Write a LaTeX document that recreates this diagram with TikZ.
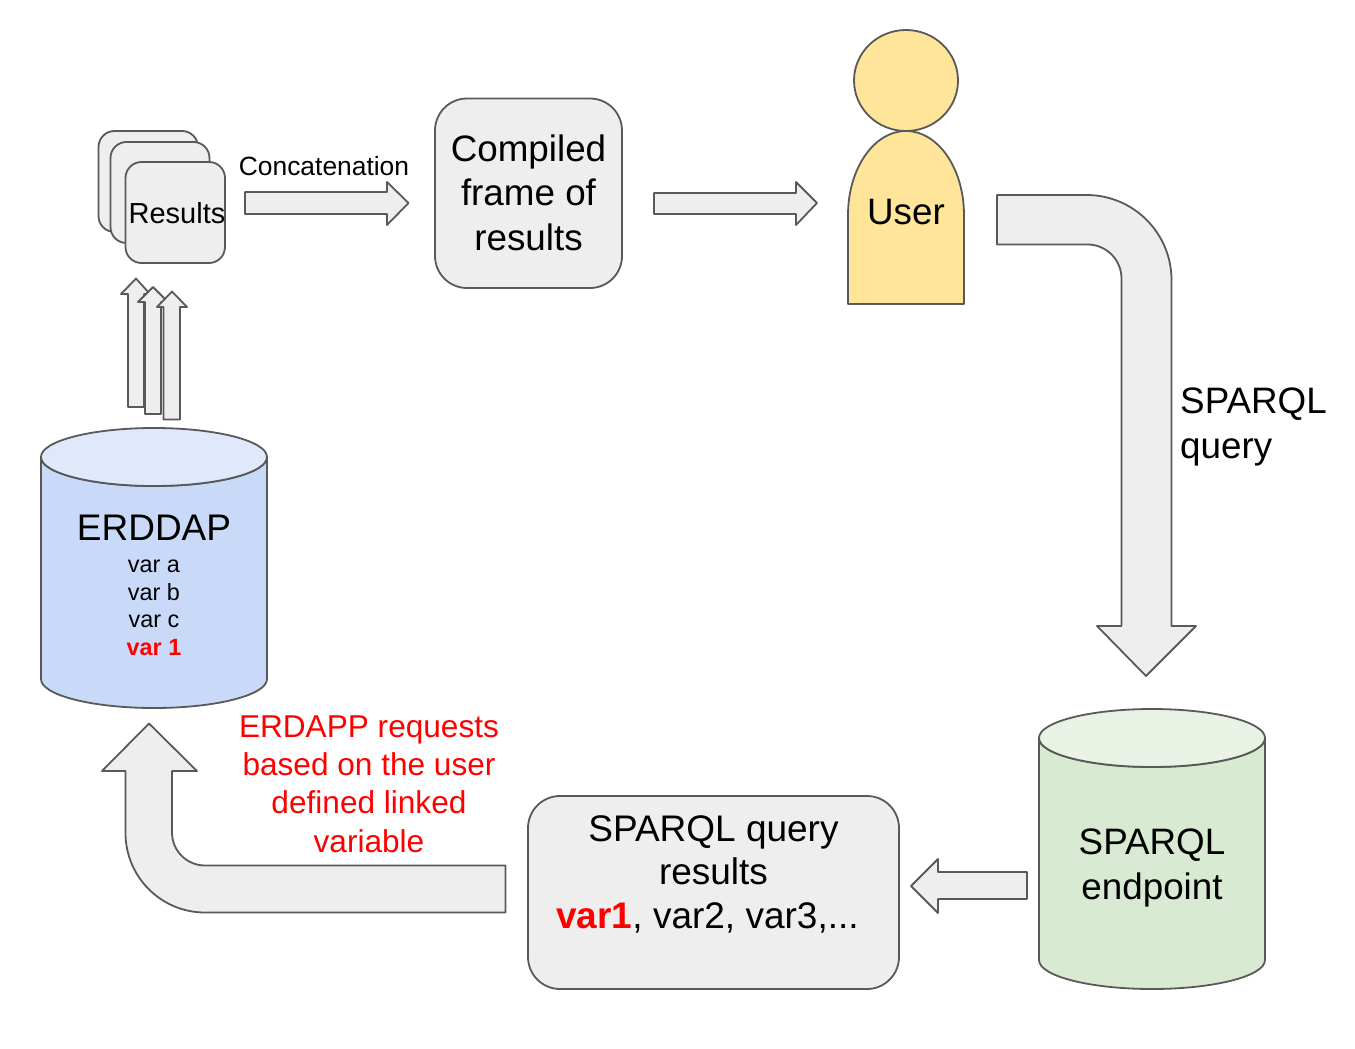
\documentclass[tikz,border=0pt]{standalone}
\usepackage{fontspec}
\setmainfont{Liberation Sans}
\definecolor{shapeline}{HTML}{595959}
\definecolor{shapefill}{HTML}{EEEEEE}
\definecolor{userfill}{HTML}{FFE599}
\definecolor{bluefill}{HTML}{C9DAF8}
\definecolor{bluetop}{HTML}{E0E8FB}
\definecolor{greenfill}{HTML}{D9EAD3}
\definecolor{greentop}{HTML}{E8F2E5}
\tikzset{
    shape line/.style={draw=shapeline, line width=1.8pt, line join=round},
    block arrow/.style={shape line, fill=shapefill},
    round box/.style={shape line, fill=shapefill, rounded corners=#1},
    big text/.style={align=center, inner sep=0pt, font=\fontsize{36.8}{44.5}\selectfont},
    red text/.style={align=center, inner sep=0pt, text=red, font=\fontsize{31.6}{38.3}\selectfont}
}
% cylinder: left x, right x, top y, bottom y, body fill, top fill
\newcommand{\drumshape}[6]{
    \path[shape line, fill=#5] (#1,#3+29) -- (#1,#4-29)
        arc[start angle=180, end angle=0, x radius=(#2-#1)/2, y radius=29]
        -- (#2,#3+29)
        arc[start angle=0, end angle=180, x radius=(#2-#1)/2, y radius=29] -- cycle;
    \path[shape line, fill=#6] (#1,#3+29)
        arc[start angle=180, end angle=540, x radius=(#2-#1)/2, y radius=29] -- cycle;
}
\begin{document}
\begin{tikzpicture}[x=1pt, y=-1pt]
        \useasboundingbox (0,0) rectangle (1355,1049);

        % results stack
        \path[round box=16pt] (98.5,131) rectangle (198,232);
        \path[round box=16pt] (110.5,142) rectangle (209.5,243);
        \path[round box=16pt] (125.5,162) rectangle (225,263);
        \node[inner sep=0pt, font=\fontsize{29}{34}\selectfont] (results) at (177,213) {Results};

        % arrows out of ERDDAP
        \path[block arrow] (128,407) -- (128,294) -- (121,294) -- (136,278.5) -- (150,294) -- (144,294) -- (144,407) -- cycle;
        \path[block arrow] (145,414) -- (145,302) -- (138,302) -- (153,287) -- (168,302) -- (161,302) -- (161,414) -- cycle;
        \path[block arrow] (163.5,419.5) -- (163.5,307) -- (157,307) -- (172,291.5) -- (187,307) -- (180,307) -- (180,419.5) -- cycle;

        % top row
        \path[block arrow] (245,192) -- (387,192) -- (387,182) -- (408.5,203) -- (387,225) -- (387,214) -- (245,214) -- cycle;
        \node[inner sep=0pt, font=\fontsize{26.4}{31}\selectfont] (concat) at (324,166) {Concatenation};
        \path[round box=32pt] (435,98.5) rectangle (622,288);
        \node[big text] (compiled) at (528.5,192.5) {Compiled\\frame of\\results};
        \path[block arrow] (654,193) -- (796,193) -- (796,182) -- (817,203) -- (796,225) -- (796,214) -- (654,214) -- cycle;

        % user
        \path[shape line, fill=userfill] (906,80.5) ellipse[x radius=52, y radius=50.5];
        \path[shape line, fill=userfill] (848,304) -- (848,215)
            arc[start angle=180, end angle=360, x radius=58, y radius=84] -- (964,304) -- cycle;
        \node[big text] (user) at (906,212) {User};

        % query arrow
        \path[block arrow] (997,195) -- (1086.5,195) arc[start angle=-90, end angle=0, radius=85]
            -- (1171.5,626) -- (1196,626) -- (1146,676) -- (1097,626) -- (1121.5,626) -- (1121.5,278.5)
            arc[start angle=0, end angle=-90, radius=34] -- (997,244.5) -- cycle;
        \node[big text, align=left, anchor=west] (query) at (1180,427) {SPARQL\\query};

        % endpoint
        \drumshape{1039}{1265}{709}{989}{greenfill}{greentop}
        \node[big text] (endpoint) at (1152,868) {SPARQL\\endpoint};

        \path[block arrow] (1027,872) -- (938,872) -- (938,859) -- (911,886) -- (938,913) -- (938,899) -- (1027,899) -- cycle;

        % query results
        \path[round box=32pt] (528,796) rectangle (899,989);
        \node[big text, font=\fontsize{37}{43.5}\selectfont] (queryresults) at (713.5,874) {SPARQL query\\results\\\textcolor{red}{\textbf{var1}}, var2, var3,...\hspace*{12pt}};

        % back to ERDDAP
        \path[block arrow] (505.5,865.5) -- (205,865.5) arc[start angle=90, end angle=180, radius=33]
            -- (172,771) -- (197,771) -- (149,723.5) -- (102,771) -- (125.5,771) -- (125.5,833)
            arc[start angle=180, end angle=90, radius=79.5] -- (505.5,912.5) -- cycle;
        \node[red text] (requests) at (369,784) {ERDAPP requests\\based on the user\\defined linked\\variable};

        % ERDDAP
        \drumshape{41}{267}{428}{708}{bluefill}{bluetop}
        \node[inner sep=0pt, font=\fontsize{37}{44}\selectfont] (erddap) at (154,528) {ERDDAP};
        \node[align=center, inner sep=0pt, font=\fontsize{23.4}{27.6}\selectfont] (vars) at (154,608) {var a\\var b\\var c\\\textcolor{red}{\textbf{var 1}}};
\end{tikzpicture}
\end{document}
